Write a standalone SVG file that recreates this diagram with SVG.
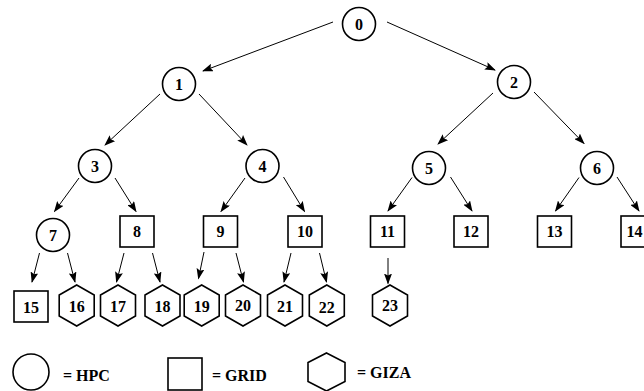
<svg xmlns="http://www.w3.org/2000/svg" width="644" height="391" viewBox="0 0 644 391">
<style>
.n{fill:#fff;stroke:#000;stroke-width:1.6}
.t{font-family:'Liberation Serif','Times New Roman','DejaVu Serif',serif;font-weight:bold;font-size:16px;text-anchor:middle;fill:#000}
.lg{font-family:'Liberation Serif','Times New Roman','DejaVu Serif',serif;font-weight:bold;font-size:16px;fill:#000}
.e{stroke:#000;stroke-width:1;fill:none;marker-end:url(#ah)}
</style>
<defs>
<marker id="ah" markerWidth="11" markerHeight="8" refX="10" refY="4" orient="auto" markerUnits="userSpaceOnUse">
<path d="M0,0 L11,4 L0,8 L2,4 z" fill="#000"/>
</marker>
<polygon id="hex" points="0,-20.5 17.5,-10.5 17.5,10.5 0,20.5 -17.5,10.5 -17.5,-10.5"/>
</defs>
<rect width="644" height="391" fill="#fff"/>
<g id="connectors">
<line class="e" x1="333" y1="22" x2="203" y2="71"/>
<line class="e" x1="387" y1="22" x2="495" y2="70"/>
<line class="e" x1="160" y1="94" x2="105" y2="145"/>
<line class="e" x1="199" y1="94" x2="247" y2="145"/>
<line class="e" x1="493" y1="93" x2="438" y2="144"/>
<line class="e" x1="534" y1="92" x2="584" y2="143.5"/>
<line class="e" x1="79" y1="178" x2="54.5" y2="211.5"/>
<line class="e" x1="115" y1="178" x2="136" y2="211.5"/>
<line class="e" x1="245" y1="178" x2="221" y2="211.5"/>
<line class="e" x1="283.5" y1="177" x2="304.5" y2="211.5"/>
<line class="e" x1="412" y1="177.5" x2="388" y2="211"/>
<line class="e" x1="450.5" y1="177" x2="472" y2="211"/>
<line class="e" x1="579" y1="177.5" x2="555.5" y2="211"/>
<line class="e" x1="617" y1="177" x2="639" y2="211"/>
<line class="e" x1="39.5" y1="253" x2="32" y2="282"/>
<line class="e" x1="67.5" y1="253" x2="75" y2="282"/>
<line class="e" x1="124" y1="253" x2="116.5" y2="282"/>
<line class="e" x1="152.5" y1="253" x2="160" y2="282"/>
<line class="e" x1="204" y1="252" x2="198.5" y2="278.5"/>
<line class="e" x1="236" y1="253" x2="243.5" y2="282"/>
<line class="e" x1="291" y1="253" x2="284" y2="282"/>
<line class="e" x1="319.5" y1="253" x2="326.5" y2="282"/>
<line class="e" x1="388" y1="258" x2="388" y2="283.5"/>
</g>
<g id="n0"><circle class="n" cx="359" cy="24" r="16.5"/><text class="t" x="359" y="29.5">0</text></g>
<g id="n1"><circle class="n" cx="179" cy="84" r="16.5"/><text class="t" x="179" y="89.5">1</text></g>
<g id="n2"><circle class="n" cx="514" cy="82" r="16.5"/><text class="t" x="514" y="87.5">2</text></g>
<g id="n3"><circle class="n" cx="95" cy="166" r="16.5"/><text class="t" x="95" y="171.5">3</text></g>
<g id="n4"><circle class="n" cx="262.5" cy="166" r="16.5"/><text class="t" x="262.5" y="171.5">4</text></g>
<g id="n5"><circle class="n" cx="429" cy="168" r="16.5"/><text class="t" x="429" y="173.5">5</text></g>
<g id="n6"><circle class="n" cx="597" cy="168" r="16.5"/><text class="t" x="597" y="173.5">6</text></g>
<g id="n7"><circle class="n" cx="53" cy="235" r="16.5"/><text class="t" x="53" y="240.5">7</text></g>
<g id="n8"><rect class="n" x="120" y="216" width="34" height="31"/><text class="t" x="137" y="237">8</text></g>
<g id="n9"><rect class="n" x="203.5" y="216" width="34" height="31"/><text class="t" x="220.5" y="237">9</text></g>
<g id="n10"><rect class="n" x="288" y="216" width="34" height="31"/><text class="t" x="305" y="237">10</text></g>
<g id="n11"><rect class="n" x="370.5" y="216" width="34" height="31"/><text class="t" x="387.5" y="237">11</text></g>
<g id="n12"><rect class="n" x="454" y="216" width="34" height="31"/><text class="t" x="471" y="237">12</text></g>
<g id="n13"><rect class="n" x="537.5" y="216" width="34" height="31"/><text class="t" x="554.5" y="237">13</text></g>
<g id="n14"><rect class="n" x="621" y="216" width="34" height="31"/><text class="t" x="634.5" y="237">14</text></g>
<g id="n15"><rect class="n" x="14" y="291" width="34" height="31"/><text class="t" x="31" y="312.5">15</text></g>
<g id="n16"><use href="#hex" class="n" x="76.7" y="305.5"/><text class="t" x="76.7" y="312">16</text></g>
<g id="n17"><use href="#hex" class="n" x="118" y="305.5"/><text class="t" x="118" y="312">17</text></g>
<g id="n18"><use href="#hex" class="n" x="162.5" y="305.5"/><text class="t" x="162.5" y="312">18</text></g>
<g id="n19"><use href="#hex" class="n" x="201.7" y="305.5"/><text class="t" x="201.7" y="312">19</text></g>
<g id="n20"><use href="#hex" class="n" x="243" y="305.5"/><text class="t" x="243" y="311">20</text></g>
<g id="n21"><use href="#hex" class="n" x="285" y="305.5"/><text class="t" x="285" y="312">21</text></g>
<g id="n22"><use href="#hex" class="n" x="326.8" y="305.5"/><text class="t" x="326.8" y="312.5">22</text></g>
<g id="n23"><use href="#hex" class="n" x="390" y="305.5"/><text class="t" x="390" y="311">23</text></g>
<g id="legend">
<circle class="n" cx="31" cy="372" r="18"/>
<text class="lg" x="63" y="381">= HPC</text>
<rect class="n" x="168" y="358" width="34" height="32"/>
<text class="lg" x="212" y="381">= GRID</text>
<polygon class="n" points="326.5,353 345,362.5 345,381.5 326.5,391 308,381.5 308,362.5"/>
<text class="lg" x="357" y="378">= GIZA</text>
</g>
</svg>
